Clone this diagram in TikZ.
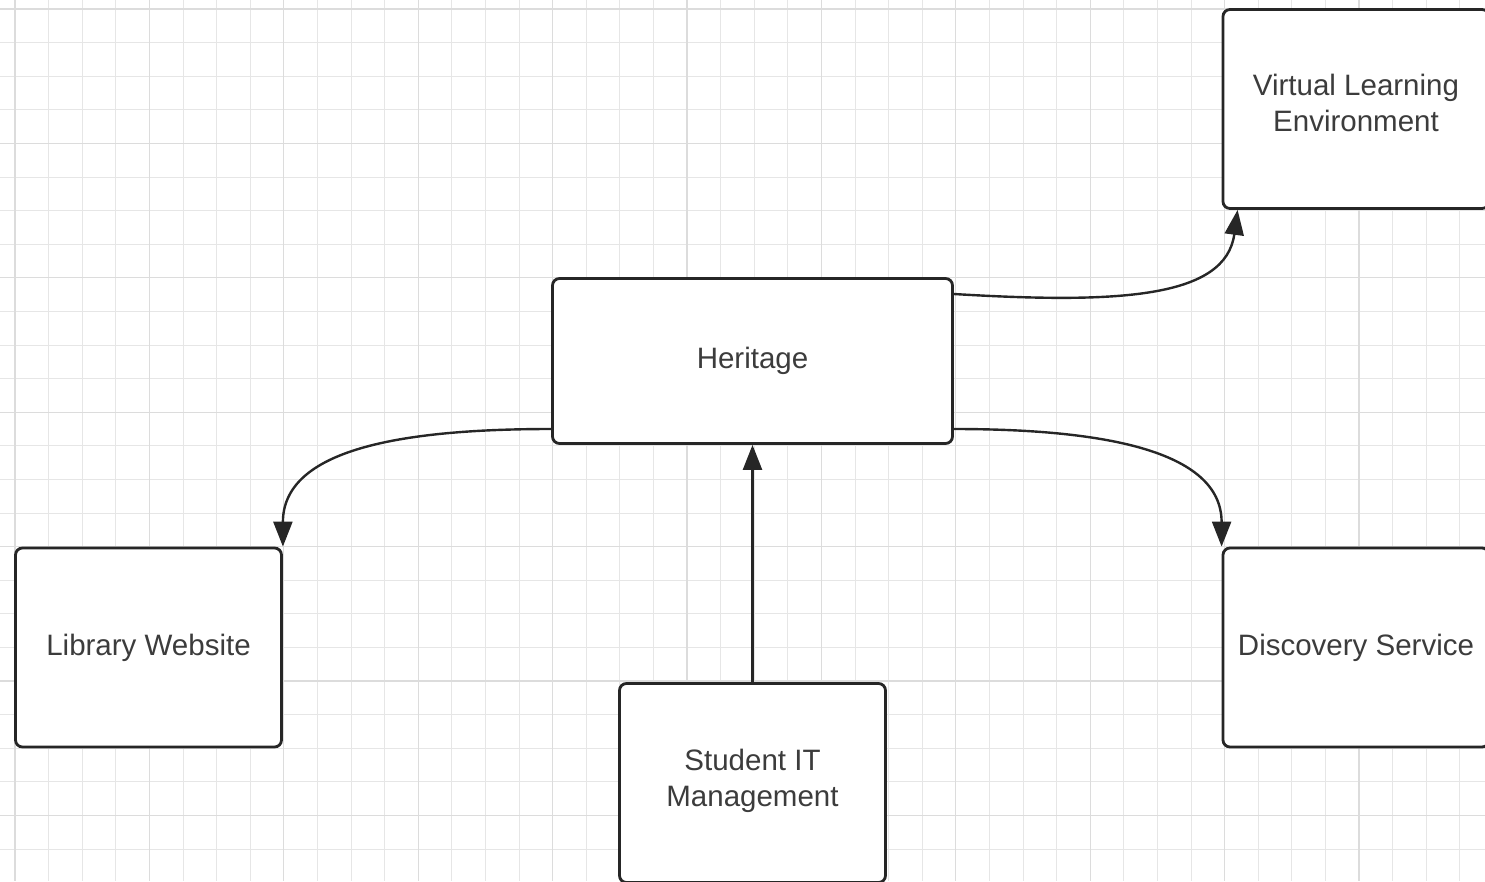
\documentclass[tikz,border=0pt]{standalone}
\usepackage{fontspec}
\setmainfont{Liberation Sans}
\usepackage{tikz}
\usetikzlibrary{positioning, arrows.meta}

\definecolor{inkgray}{HTML}{262626}
\definecolor{minorgray}{HTML}{E6E6E6}
\definecolor{majorgray}{HTML}{DCDCDC}

\begin{document}
\begin{tikzpicture}[
    x=1pt, y=-1pt,
    every node/.style={font=\fontsize{29.5}{36}\selectfont, text=inkgray!90},
    system/.style={draw=inkgray, line width=2.8pt, fill=white, rounded corners=7pt,
        align=center, inner sep=0pt, minimum width=266pt, minimum height=199pt},
    link/.style={draw=inkgray, line width=2.4pt, -{Triangle[length=25pt, width=19pt]}},
    minorgrid/.style={draw=minorgray, line width=1pt},
    majorgrid/.style={draw=majorgray, line width=1.2pt}
]

\useasboundingbox (0,0) rectangle (1485,881);
\clip (0,0) rectangle (1485,881);

% Grid paper
\foreach \i in {0,...,43}
    \draw[minorgrid] ({15+33.6*\i},0) -- ({15+33.6*\i},881);
\foreach \j in {0,...,25}
    \draw[minorgrid] (0,{9+33.6*\j}) -- (1485,{9+33.6*\j});
\foreach \i in {0,...,10}
    \draw[majorgrid] ({15+134.4*\i},0) -- ({15+134.4*\i},881);
\foreach \j in {0,...,6}
    \draw[majorgrid] (0,{9+134.4*\j}) -- (1485,{9+134.4*\j});

% Systems
\node[system, minimum width=400pt, minimum height=165pt] (heritage) at (752.5,361) {Heritage};
\node[system] (vle) at (1356,109) {Virtual Learning\\Environment\\[-24pt]};
\node[system] (library) at (148.5,647.5) {Library Website};
\node[system] (discovery) at (1356,647.5) {Discovery Service};
\node[system] (studentit) at (752.5,783) {Student IT\\Management\\[-26pt]};

% Links
\draw[link] ([yshift=67pt]heritage.east) .. controls +(166,10) and +(-12,88) .. ([xshift=16pt]vle.south west);
\draw[link] ([yshift=-68pt]heritage.west) .. controls +(-151,0) and +(0,-97) .. (library.north east);
\draw[link] ([yshift=-68pt]heritage.east) .. controls +(146,0) and +(0,-97) .. (discovery.north west);
\draw[link] (studentit.north) -- (heritage.south);

\end{tikzpicture}
\end{document}
